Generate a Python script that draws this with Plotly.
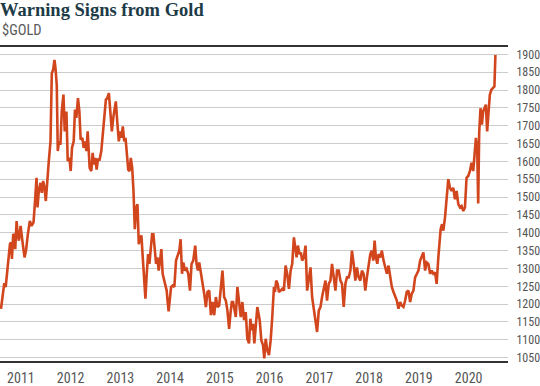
import plotly.graph_objects as go

# Decimal-year positions and $GOLD prices
years = [
    2010.600, 2010.646, 2010.666, 2010.694, 2010.714, 2010.746, 2010.780, 2010.800, 2010.820, 2010.846,
    2010.874, 2010.886, 2010.914, 2010.934, 2010.960, 2010.994, 2011.020, 2011.046, 2011.074, 2011.106,
    2011.140, 2011.180, 2011.214, 2011.254, 2011.280, 2011.314, 2011.334, 2011.360, 2011.394, 2011.420,
    2011.447, 2011.475, 2011.501, 2011.527, 2011.561, 2011.595, 2011.621, 2011.647, 2011.675, 2011.695,
    2011.721, 2011.741, 2011.767, 2011.795, 2011.821, 2011.855, 2011.881, 2011.915, 2011.941, 2011.975,
    2012.001, 2012.027, 2012.061, 2012.087, 2012.115, 2012.147, 2012.175, 2012.201, 2012.235, 2012.262,
    2012.288, 2012.316, 2012.342, 2012.382, 2012.416, 2012.442, 2012.468, 2012.496, 2012.522, 2012.548,
    2012.582, 2012.616, 2012.648, 2012.682, 2012.708, 2012.736, 2012.768, 2012.802, 2012.828, 2012.856,
    2012.882, 2012.908, 2012.936, 2012.968, 2012.996, 2013.022, 2013.048, 2013.077, 2013.103, 2013.129,
    2013.157, 2013.183, 2013.209, 2013.237, 2013.263, 2013.289, 2013.317, 2013.343, 2013.369, 2013.397,
    2013.423, 2013.449, 2013.477, 2013.503, 2013.529, 2013.557, 2013.583, 2013.609, 2013.637, 2013.663,
    2013.689, 2013.717, 2013.743, 2013.769, 2013.797, 2013.823, 2013.849, 2013.877, 2013.903, 2013.930,
    2013.944, 2013.969, 2014.018, 2014.050, 2014.084, 2014.118, 2014.150, 2014.184, 2014.210, 2014.238,
    2014.264, 2014.298, 2014.330, 2014.364, 2014.398, 2014.430, 2014.464, 2014.504, 2014.530, 2014.558,
    2014.584, 2014.618, 2014.650, 2014.684, 2014.718, 2014.750, 2014.785, 2014.819, 2014.851, 2014.885,
    2014.919, 2014.951, 2014.985, 2015.019, 2015.051, 2015.085, 2015.119, 2015.151, 2015.185, 2015.211,
    2015.239, 2015.265, 2015.291, 2015.319, 2015.351, 2015.385, 2015.419, 2015.451, 2015.485, 2015.519,
    2015.551, 2015.585, 2015.612, 2015.640, 2015.666, 2015.692, 2015.720, 2015.752, 2015.800, 2015.832,
    2015.866, 2015.892, 2015.920, 2015.952, 2015.986, 2016.020, 2016.052, 2016.086, 2016.106, 2016.132,
    2016.160, 2016.186, 2016.220, 2016.252, 2016.286, 2016.320, 2016.352, 2016.387, 2016.421, 2016.453,
    2016.487, 2016.513, 2016.541, 2016.567, 2016.601, 2016.627, 2016.653, 2016.687, 2016.721, 2016.753,
    2016.787, 2016.821, 2016.853, 2016.887, 2016.921, 2016.953, 2016.987, 2017.021, 2017.053, 2017.087,
    2017.121, 2017.153, 2017.187, 2017.221, 2017.253, 2017.288, 2017.322, 2017.354, 2017.388, 2017.422,
    2017.454, 2017.488, 2017.522, 2017.554, 2017.588, 2017.622, 2017.654, 2017.688, 2017.722, 2017.754,
    2017.788, 2017.822, 2017.854, 2017.888, 2017.922, 2017.954, 2017.988, 2018.022, 2018.054, 2018.082,
    2018.109, 2018.135, 2018.163, 2018.189, 2018.223, 2018.255, 2018.289, 2018.323, 2018.355, 2018.389,
    2018.423, 2018.455, 2018.489, 2018.523, 2018.555, 2018.589, 2018.623, 2018.655, 2018.689, 2018.723,
    2018.755, 2018.789, 2018.823, 2018.855, 2018.889, 2018.923, 2018.956, 2018.990, 2019.024, 2019.056,
    2019.090, 2019.124, 2019.156, 2019.190, 2019.224, 2019.256, 2019.290, 2019.324, 2019.356, 2019.390,
    2019.410, 2019.436, 2019.464, 2019.490, 2019.524, 2019.556, 2019.590, 2019.624, 2019.656, 2019.690,
    2019.724, 2019.757, 2019.791, 2019.825, 2019.857, 2019.891, 2019.925, 2019.957, 2019.991, 2020.025,
    2020.057, 2020.091, 2020.125, 2020.145, 2020.171, 2020.191, 2020.211, 2020.237, 2020.265, 2020.291,
    2020.317, 2020.345, 2020.371, 2020.397, 2020.425, 2020.457, 2020.491, 2020.517, 2020.537,
]

prices = [
    1187, 1238, 1259, 1248, 1275, 1322, 1368, 1373, 1327, 1396,
    1392, 1354, 1433, 1396, 1378, 1419, 1382, 1359, 1331, 1354,
    1396, 1433, 1419, 1429, 1480, 1554, 1471, 1517, 1540, 1512,
    1545, 1526, 1489, 1554, 1601, 1656, 1847, 1856, 1884, 1861,
    1814, 1629, 1656, 1647, 1740, 1787, 1684, 1740, 1601, 1610,
    1573, 1638, 1656, 1745, 1722, 1777, 1740, 1661, 1666, 1638,
    1656, 1629, 1684, 1582, 1573, 1624, 1591, 1610, 1577, 1605,
    1605, 1629, 1684, 1740, 1773, 1777, 1791, 1731, 1684, 1722,
    1740, 1768, 1712, 1656, 1684, 1666, 1698, 1656, 1666, 1619,
    1577, 1573, 1610, 1582, 1517, 1410, 1471, 1480, 1368, 1387,
    1392, 1331, 1275, 1215, 1285, 1340, 1313, 1359, 1396, 1396,
    1350, 1313, 1331, 1294, 1322, 1354, 1285, 1266, 1257, 1238,
    1215, 1180, 1248, 1252, 1248, 1322, 1336, 1350, 1382, 1285,
    1317, 1294, 1299, 1285, 1238, 1313, 1322, 1364, 1313, 1294,
    1317, 1289, 1257, 1229, 1192, 1234, 1238, 1169, 1206, 1169,
    1220, 1192, 1196, 1257, 1294, 1220, 1210, 1182, 1131, 1173,
    1206, 1206, 1182, 1164, 1248, 1201, 1164, 1206, 1155, 1178,
    1103, 1090, 1159, 1127, 1145, 1090, 1145, 1192, 1155, 1099,
    1085, 1048, 1103, 1071, 1057, 1099, 1164, 1248, 1234, 1266,
    1257, 1234, 1238, 1243, 1238, 1308, 1285, 1243, 1294, 1313,
    1387, 1354, 1331, 1364, 1340, 1345, 1322, 1331, 1364, 1238,
    1275, 1303, 1220, 1182, 1145, 1122, 1182, 1192, 1220, 1248,
    1266, 1210, 1257, 1266, 1313, 1275, 1238, 1294, 1294, 1266,
    1257, 1192, 1257, 1275, 1275, 1294, 1350, 1313, 1266, 1303,
    1275, 1266, 1294, 1285, 1238, 1275, 1313, 1340, 1350, 1322,
    1378, 1331, 1313, 1340, 1331, 1350, 1322, 1303, 1285, 1308,
    1275, 1248, 1234, 1220, 1210, 1187, 1206, 1196, 1192, 1210,
    1234, 1238, 1206, 1229, 1238, 1275, 1285, 1294, 1322, 1331,
    1345, 1294, 1317, 1313, 1285, 1294, 1285, 1289, 1257, 1331,
    1359, 1410, 1424, 1406, 1443, 1489, 1550, 1526, 1517, 1526,
    1494, 1517, 1480, 1471, 1475, 1461, 1471, 1554, 1559, 1573,
    1596, 1573, 1647, 1666, 1638, 1482, 1680, 1749, 1703, 1740,
    1749, 1759, 1684, 1749, 1787, 1801, 1807, 1810, 1898,
]

year_ticks = [2011, 2012, 2013, 2014, 2015, 2016, 2017, 2018, 2019, 2020]
year_labels = ["2011", "2012", "2013", "2014", "2015", "2016", "2017", "2018", "2019", "2020"]
price_ticks = [1050, 1100, 1150, 1200, 1250, 1300, 1350, 1400, 1450, 1500,
               1550, 1600, 1650, 1700, 1750, 1800, 1850, 1900]

COND = "Liberation Sans Narrow, Roboto Condensed, Roboto, sans-serif"

fig = go.Figure()
fig.add_trace(go.Scatter(
    x=years, y=prices, mode="lines",
    line=dict(color="#d2461e", width=2.6),
    hoverinfo="skip", showlegend=False,
))

fig.update_layout(
    width=540, height=386,
    margin=dict(l=0, r=30, t=47, b=24),
    paper_bgcolor="white", plot_bgcolor="white",
    title=dict(
        text="<b>Warning Signs from Gold</b>",
        x=0, xref="container", xanchor="left",
        y=1 - 10 / 386, yref="container", yanchor="middle",
        font=dict(family="Liberation Serif, DejaVu Serif, serif", size=18.5, color="#1d3b47"),
    ),
    annotations=[dict(
        text="$GOLD", xref="paper", yref="paper",
        x=0, y=(362 - 30.5) / 315, xanchor="left", yanchor="middle",
        showarrow=False,
        font=dict(family=COND, size=14.5, color="#5a5a5a"),
    )],
    xaxis=dict(
        range=[2010.58, 2020.79],
        tickvals=year_ticks, ticktext=year_labels,
        showgrid=False, zeroline=False,
        showline=True, mirror=True, linecolor="#333333", linewidth=1.5,
        ticks="outside", ticklen=3, tickcolor="rgba(0,0,0,0)",
        tickfont=dict(family=COND, size=14, color="#555555"),
    ),
    yaxis=dict(
        range=[1040.7, 1920.5],
        side="right",
        tickvals=price_ticks,
        showgrid=True, gridcolor="#cccccc", gridwidth=1.2,
        zeroline=False, showline=False,
        ticks="outside", ticklen=5, tickcolor="rgba(0,0,0,0)",
        tickfont=dict(family=COND, size=12, color="#555555"),
    ),
)

fig.write_html("out.html", config={"displayModeBar": False},
               post_script="document.body.style.margin='0';")
